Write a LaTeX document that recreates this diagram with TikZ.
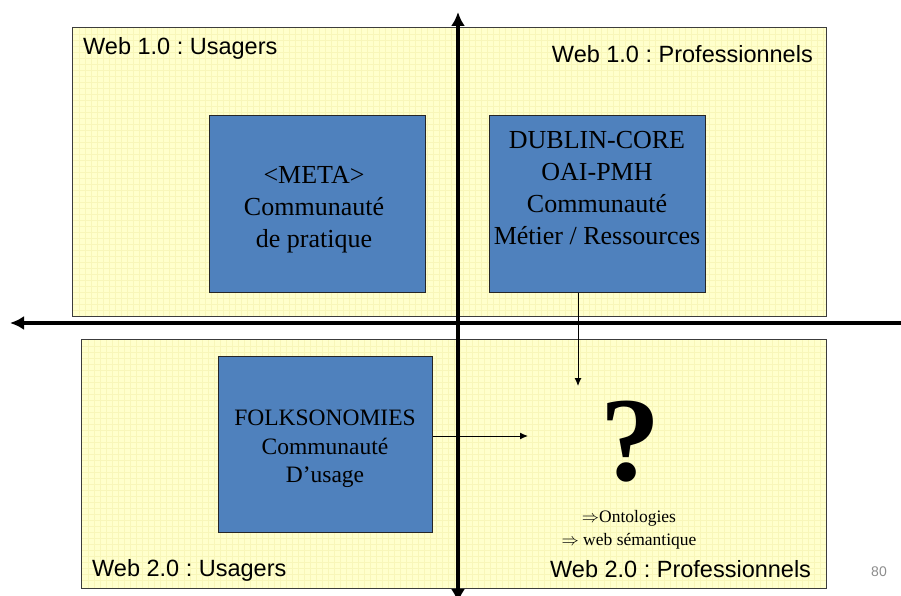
\documentclass[tikz,border=0pt]{standalone}
\usepackage{fontspec}
\setmainfont{Liberation Serif}
\setsansfont{Liberation Sans}
\usetikzlibrary{arrows.meta}
\definecolor{panelfill}{RGB}{255,255,204}
\definecolor{panelgrid}{RGB}{248,246,185}
\definecolor{panelframe}{RGB}{60,60,60}
\definecolor{boxblue}{RGB}{79,129,189}
\definecolor{pagegray}{RGB}{140,140,140}
\frenchspacing
\begin{document}
\begin{tikzpicture}[x=1pt,y=-1pt,
  panel/.style={fill=panelfill, draw=none, inner sep=0pt},
  gridlines/.style={draw=panelgrid, line width=0.4pt},
  frame/.style={draw=panelframe, line width=1pt},
  bluebox/.style={fill=boxblue, draw=black!85, line width=1pt, inner sep=0pt},
  boxtext/.style={align=center, inner sep=0pt, font=\fontsize{26}{32}\selectfont},
  label/.style={inner sep=0pt, font=\sffamily\fontsize{23.5}{28}\selectfont},
  axis/.style={line width=4.5pt, {Latex[length=14pt,width=14pt]}-{Latex[length=14pt,width=14pt]}},
  link/.style={line width=1pt, -{Latex[length=8pt,width=7pt]}}
]
\useasboundingbox (0,0) rectangle (901,596);
\clip (0,0) rectangle (901,596);

% panels
\node[panel, minimum width=753pt, minimum height=288pt] (top) at (449.5,172) {};
\foreach \xx in {79,85,...,823} \draw[gridlines] (\xx,28) -- (\xx,316);
\foreach \yy in {34,40,...,313} \draw[gridlines] (73,\yy) -- (826,\yy);
\draw[frame] (top.north west) rectangle (top.south east);

\node[panel, minimum width=744pt, minimum height=248pt] (bot) at (454,464) {};
\foreach \xx in {88,94,...,823} \draw[gridlines] (\xx,340) -- (\xx,588);
\foreach \yy in {346,352,...,585} \draw[gridlines] (82,\yy) -- (826,\yy);
\draw[frame] (bot.north west) rectangle (bot.south east);

% axes
\coordinate (hl) at (10,323);
\coordinate (hr) at (915,323);
\coordinate (vt) at (458,12);
\coordinate (vb) at (458,603);
\draw[axis] (hl) -- (hr);
\draw[axis] (vt) -- (vb);

% blue boxes
\node[bluebox, minimum width=216pt, minimum height=176pt] (b1) at (317.5,204) {};
\node[bluebox, minimum width=216pt, minimum height=176pt] (b2) at (597.5,204) {};
\node[bluebox, minimum width=214pt, minimum height=176pt] (b3) at (325,444) {};

\node[boxtext] (t1) at (314,210) {\textless META\textgreater\\Communauté\\de pratique};
\node[boxtext] (t2) at (597,188) {DUBLIN-CORE\\OAI-PMH\\Communauté\\Métier / Ressources};
\node[boxtext, font=\fontsize{23.5}{28.5}\selectfont] (t3) at (325,449) {FOLKSONOMIES\\Communauté\\D’usage};

% connectors
\coordinate (q1) at (578,386);
\coordinate (q2) at (528,436);
\draw[link] (b2.south -| q1) -- (q1);
\draw[link] (b3.east |- q2) -- (q2);

% question mark and notes
\node[inner sep=0pt, font=\fontsize{120}{120}\selectfont\bfseries] (qm) at (630,442) {?};
\node[inner sep=0pt, anchor=base, font=\fontsize{17.5}{20}\selectfont] (n1) at (629,522) {$\Rightarrow$Ontologies};
\node[inner sep=0pt, anchor=base, font=\fontsize{17.5}{20}\selectfont] (n2) at (629,545) {$\Rightarrow$ web sémantique};

% labels
\node[label, anchor=base west] (l1) at (83,55) {Web 1.0 : Usagers};
\node[label, anchor=base east] (l2) at (813,63) {Web 1.0 : Professionnels};
\node[label, anchor=base west] (l3) at (92,576) {Web 2.0 : Usagers};
\node[label, anchor=base west] (l4) at (550,577) {Web 2.0 : Professionnels};
\node[inner sep=0pt, anchor=base, text=pagegray, font=\sffamily\fontsize{14}{16}\selectfont] (pg) at (879,576) {80};
\end{tikzpicture}
\end{document}
